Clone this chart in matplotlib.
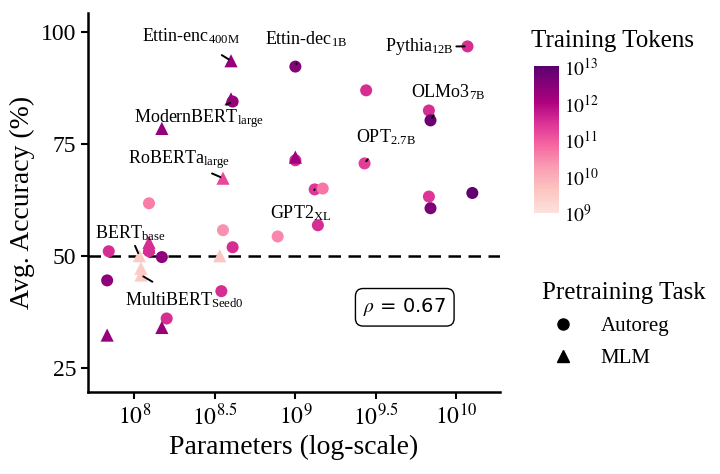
import numpy as np
import matplotlib.pyplot as plt
import matplotlib.colors as mcolors
from matplotlib.lines import Line2D

plt.rcParams['font.family'] = ['Liberation Serif', 'DejaVu Serif']
plt.rcParams['mathtext.fontset'] = 'stix'

# log10 params, accuracy, log10 tokens, marker
log_params = [8.60, 9.00, 10.07, 9.44, 8.60, 8.61, 8.17, 9.83, 9.84, 9.00, 9.00, 9.43, 8.55,
              9.12, 9.17, 9.83, 10.10, 9.84, 8.09, 8.55, 8.89, 9.14, 8.61, 7.84, 8.09, 8.09,
              8.09, 8.17, 8.03, 8.53, 8.04, 8.04, 7.83, 8.54, 8.20, 8.17, 7.83]
accuracy = [93.5, 92.2, 96.7, 86.9, 85.0, 84.4, 78.4, 82.4, 80.2, 72.0, 71.3, 70.6, 67.3,
            64.8, 65.0, 63.2, 64.0, 60.6, 61.7, 55.7, 54.3, 56.8, 51.9, 51.0, 53.0, 51.9,
            51.0, 49.7, 50.0, 50.0, 47.2, 45.7, 44.5, 42.1, 36.0, 34.0, 32.3]
log_tokens = [12.3, 12.5, 11.5, 11.5, 12.3, 12.3, 12.3, 11.5, 12.8, 12.2, 11.5, 11.3, 11.2,
              11.4, 10.7, 11.4, 12.9, 12.6, 10.6, 10.4, 10.5, 11.5, 11.5, 11.5, 11.5, 11.5,
              11.5, 12.4, 9.5, 9.6, 9.5, 9.5, 12.4, 11.5, 11.5, 12.3, 12.3]
task = ['MLM', 'A', 'A', 'A', 'MLM', 'A', 'MLM', 'A', 'A', 'MLM', 'A', 'A', 'MLM',
        'A', 'A', 'A', 'A', 'A', 'A', 'A', 'A', 'A', 'A', 'A', 'MLM', 'MLM',
        'A', 'A', 'MLM', 'MLM', 'MLM', 'MLM', 'A', 'A', 'A', 'MLM', 'MLM']

# label text, point index, text position (log x, y)
labels = [
    (r'Ettin-enc$_{\mathregular{400M}}$', 0, (8.35, 99.0)),
    (r'Ettin-dec$_{\mathregular{1B}}$', 1, (9.07, 98.3)),
    (r'Pythia$_{\mathregular{12B}}$', 2, (9.77, 96.7)),
    (r'ModernBERT$_{\mathregular{large}}$', 5, (8.4, 80.6)),
    (r'OLMo3$_{\mathregular{7B}}$', 8, (9.95, 86.5)),
    (r'OPT$_{\mathregular{2.7B}}$', 11, (9.56, 76.5)),
    (r'RoBERTa$_{\mathregular{large}}$', 12, (8.28, 71.5)),
    (r'GPT2$_{\mathregular{XL}}$', 13, (9.03, 59.5)),
    (r'BERT$_{\mathregular{base}}$', 28, (7.97, 55.0)),
    (r'MultiBERT$_{\mathregular{Seed0}}$', 31, (8.31, 40.0)),
]

cmap = mcolors.LinearSegmentedColormap.from_list(
    'tok', plt.cm.RdPu(np.linspace(0.12, 0.95, 256)))
norm = mcolors.Normalize(vmin=9, vmax=13)

fig = plt.figure(figsize=(7.2, 4.74), dpi=100)
ax = fig.add_axes([0.122, 0.173, 0.572, 0.80])

x = 10 ** np.array(log_params)
y = np.array(accuracy)
t = np.array(log_tokens)
m = np.array(task)
for key, mk, s in [('A', 'o', 75), ('MLM', '^', 90)]:
    sel = m == key
    ax.scatter(x[sel], y[sel], c=t[sel], cmap=cmap, norm=norm, marker=mk, s=s,
               edgecolors='none', zorder=3)

ax.axhline(50, color='black', linestyle=(0, (5, 3)), linewidth=1.8, zorder=2)

for text, i, (tx, ty) in labels:
    ax.annotate(text, xy=(x[i], y[i]), xytext=(10 ** tx, ty), fontsize=13,
                ha='center', va='center',
                arrowprops=dict(arrowstyle='-', color='black', lw=1.4, shrinkA=9, shrinkB=2))

ax.text(10 ** 9.68, 38.5, r'$\rho$ = 0.67', fontsize=14, family='DejaVu Sans',
        ha='center', va='center',
        bbox=dict(boxstyle='round,pad=0.4', fc='white', ec='black', lw=1))

ax.set_xscale('log')
ax.set_xlim(10 ** 7.71, 10 ** 10.27)
ax.set_ylim(19.6, 104.2)
ax.set_xticks([10 ** 8, 10 ** 8.5, 10 ** 9, 10 ** 9.5, 10 ** 10])
ax.set_xticklabels([r'$10^8$', r'$10^{8.5}$', r'$10^9$', r'$10^{9.5}$', r'$10^{10}$'])
ax.minorticks_off()
ax.set_yticks([25, 50, 75, 100])
ax.tick_params(labelsize=17, width=1.5, length=5)
for sp in ['top', 'right']:
    ax.spines[sp].set_visible(False)
for sp in ['left', 'bottom']:
    ax.spines[sp].set_linewidth(1.8)
ax.set_xlabel('Parameters (log-scale)', fontsize=20)
ax.set_ylabel('Avg. Accuracy (%)', fontsize=20)

# colorbar
cax = fig.add_axes([0.742, 0.55, 0.035, 0.31])
sm = plt.cm.ScalarMappable(norm=norm, cmap=cmap)
cb = fig.colorbar(sm, cax=cax, ticks=[9, 10, 11, 12, 13])
cb.ax.set_yticklabels([r'$10^{9}$', r'$10^{10}$', r'$10^{11}$', r'$10^{12}$', r'$10^{13}$'])
cb.ax.tick_params(labelsize=14, length=0)
cb.outline.set_visible(False)
fig.text(0.738, 0.9, 'Training Tokens', fontsize=18)

handles = [Line2D([], [], marker='o', color='black', linestyle='none', markersize=8),
           Line2D([], [], marker='^', color='black', linestyle='none', markersize=9)]
fig.legend(handles, ['Autoreg', 'MLM'], loc='upper left', bbox_to_anchor=(0.727, 0.445),
           frameon=False, fontsize=15, title='Pretraining Task', title_fontsize=18,
           alignment='left', handletextpad=0.8, labelspacing=0.6)

fig.savefig('out.png', dpi=100)
